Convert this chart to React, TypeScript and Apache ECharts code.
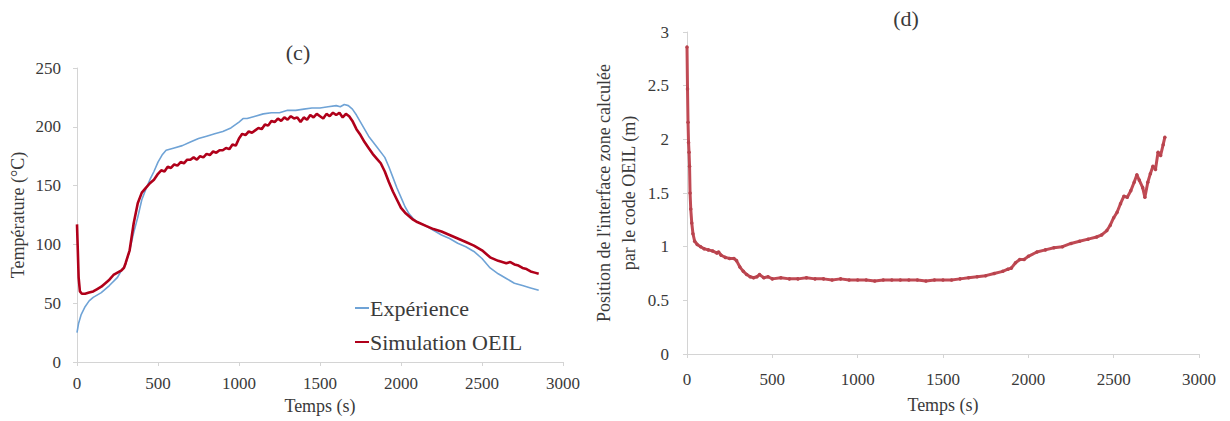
import React, { useEffect, useRef } from "react";
import * as echarts from "echarts";

// ---- Chart (c): temperature ----
const expTimes = [0, 10, 25, 50, 75, 100, 150, 200, 250, 275, 300, 325, 350, 375, 400, 425, 450, 475, 500, 525, 550, 600, 650, 700, 750, 800, 850, 900, 950, 1000, 1025, 1050, 1100, 1150, 1200, 1250, 1300, 1350, 1400, 1450, 1500, 1550, 1600, 1625, 1650, 1675, 1700, 1725, 1750, 1775, 1800, 1850, 1900, 1925, 1950, 1975, 2000, 2025, 2050, 2075, 2100, 2150, 2200, 2250, 2300, 2350, 2400, 2450, 2500, 2550, 2600, 2650, 2700, 2750, 2800, 2850];
const expValues = [25, 33, 40, 47, 52, 55, 59, 65, 72, 78, 83, 95, 110, 123, 138, 147, 155, 162, 170, 176, 180, 182, 184, 187, 190, 192, 194, 196, 199, 204, 207, 207, 209, 211, 212, 212, 214, 214, 215, 216, 216, 217, 218, 217, 219, 218, 215, 210, 204, 198, 192, 183, 174, 166, 157, 148, 140, 132, 126, 122, 119, 116, 112, 108, 105, 101, 98, 94, 88, 80, 75, 71, 67, 65, 63, 61];

const simTimes = [0, 5, 10, 18, 30, 50, 75, 100, 125, 150, 175, 200, 225, 250, 275, 290, 300, 325, 350, 375, 400, 425, 450, 475, 500, 520, 540, 560, 580, 600, 620, 640, 660, 680, 700, 720, 740, 760, 780, 800, 820, 840, 860, 880, 900, 920, 940, 960, 980, 1000, 1020, 1040, 1060, 1080, 1100, 1120, 1140, 1160, 1180, 1200, 1220, 1240, 1260, 1280, 1300, 1320, 1340, 1360, 1380, 1400, 1420, 1440, 1460, 1480, 1500, 1520, 1540, 1560, 1580, 1600, 1620, 1640, 1660, 1680, 1700, 1725, 1750, 1775, 1800, 1825, 1850, 1875, 1900, 1925, 1950, 1975, 2000, 2025, 2050, 2075, 2100, 2150, 2200, 2250, 2300, 2350, 2400, 2450, 2500, 2550, 2600, 2650, 2675, 2700, 2725, 2750, 2775, 2800, 2825, 2850];
const simValues = [117, 95, 72, 60, 58, 58, 59, 60, 62, 64, 67, 70, 74, 76, 78, 80, 84, 95, 118, 135, 144, 148, 152, 155, 160, 163, 162, 166, 165, 168, 167, 170, 169, 172, 172, 174, 172, 175, 174, 177, 176, 179, 178, 180, 180, 182, 181, 185, 184, 190, 194, 193, 196, 195, 197, 199, 198, 202, 201, 205, 204, 207, 205, 208, 206, 209, 207, 208, 204, 208, 206, 210, 208, 211, 209, 207, 211, 209, 212, 210, 212, 208, 211, 209, 205, 198, 193, 187, 182, 177, 173, 169, 162, 153, 145, 138, 131, 127, 124, 121, 119, 116, 113, 111, 108, 105, 102, 99, 95, 89, 86, 84, 85, 83, 82, 80, 79, 77, 76, 75];

// ---- Chart (d): interface position ----
const posTimes = [0, 3, 6, 9, 12, 15, 18, 22, 28, 35, 45, 60, 80, 100, 125, 150, 175, 185, 200, 225, 250, 275, 290, 310, 330, 350, 370, 390, 410, 425, 450, 475, 500, 550, 600, 650, 700, 750, 800, 850, 900, 950, 1000, 1050, 1100, 1150, 1200, 1250, 1300, 1350, 1400, 1450, 1500, 1550, 1600, 1650, 1700, 1750, 1800, 1850, 1880, 1900, 1925, 1950, 1975, 2000, 2050, 2100, 2150, 2200, 2250, 2300, 2350, 2400, 2430, 2460, 2480, 2500, 2520, 2540, 2560, 2580, 2600, 2620, 2636, 2650, 2670, 2683, 2700, 2715, 2730, 2745, 2760, 2775, 2790, 2800];
const posValues = [2.86, 2.47, 2.16, 1.97, 1.88, 1.75, 1.5, 1.35, 1.22, 1.12, 1.05, 1.02, 1.0, 0.98, 0.97, 0.96, 0.94, 0.95, 0.92, 0.9, 0.89, 0.89, 0.87, 0.81, 0.77, 0.74, 0.72, 0.71, 0.72, 0.74, 0.71, 0.72, 0.7, 0.71, 0.7, 0.7, 0.71, 0.7, 0.7, 0.69, 0.7, 0.69, 0.69, 0.69, 0.68, 0.69, 0.69, 0.69, 0.69, 0.69, 0.68, 0.69, 0.69, 0.69, 0.7, 0.71, 0.72, 0.73, 0.75, 0.77, 0.79, 0.8, 0.85, 0.88, 0.88, 0.91, 0.95, 0.97, 0.99, 1.0, 1.03, 1.05, 1.07, 1.09, 1.11, 1.15, 1.2, 1.27, 1.32, 1.4, 1.47, 1.46, 1.52, 1.6, 1.67, 1.62, 1.55, 1.46, 1.6, 1.68, 1.75, 1.72, 1.88, 1.85, 1.95, 2.02];

const xTicks = { min: 0, max: 3000, interval: 500 };
const leftY = { min: 0, max: 250, interval: 50 };
const rightY = { min: 0, max: 3, interval: 0.5 };

const FONT = "Liberation Serif";
const TXT = "#3a3a3a";
const AXIS = "#d4d4d4";

const zip = (a: number[], b: number[]) => a.map((t, i) => [t, b[i]]);

export default function App() {
  const ref = useRef<HTMLDivElement>(null);
  useEffect(() => {
    if (!ref.current) return;
    const chart = echarts.init(ref.current, undefined, { renderer: "svg" });
    const label = (margin: number) => ({
      color: TXT,
      fontFamily: FONT,
      fontSize: 17,
      margin,
      formatter: (v: number) => "{s|" + String(v) + "}",
      rich: { s: { fontFamily: FONT, fontSize: 17, color: TXT } },
    });
    const axisCommon = {
      type: "value" as const,
      axisLine: { show: true, lineStyle: { color: AXIS, width: 1 } },
      axisTick: { show: true, length: 4, lineStyle: { color: AXIS } },
      splitLine: { show: false },
      nameTextStyle: { color: TXT, fontFamily: FONT, fontSize: 18 },
      nameLocation: "middle" as const,
    };
    chart.setOption({
      animation: false,
      backgroundColor: "#ffffff",
      textStyle: { fontFamily: FONT },
      grid: [
        { left: 77, right: 667, top: 68, bottom: 59 },
        { left: 687, right: 31, top: 32, bottom: 67 },
      ],
      xAxis: [
        { ...axisCommon, gridIndex: 0, ...xTicks, name: "Temps (s)", nameGap: 34, axisLabel: label(13) },
        { ...axisCommon, gridIndex: 1, ...xTicks, name: "Temps (s)", nameGap: 42, axisLabel: label(17) },
      ],
      yAxis: [
        { ...axisCommon, gridIndex: 0, ...leftY, name: "Température (°C)", nameGap: 50, axisLabel: label(16) },
        {
          ...axisCommon, gridIndex: 1, ...rightY,
          name: "Position de l'interface zone calculée\npar le code OEIL (m)",
          nameGap: 46,
          nameTextStyle: { ...axisCommon.nameTextStyle, lineHeight: 25, align: "center" },
          axisLabel: label(18),
        },
      ],
      legend: {
        orient: "vertical",
        left: 350,
        top: 292,
        itemWidth: 14,
        itemHeight: 2,
        itemGap: 12,
        icon: "rect",
        textStyle: { color: TXT, fontFamily: FONT, fontSize: 22, padding: [0, 0, 0, -4] },
        data: ["Expérience", "Simulation OEIL"],
      },
      graphic: [
        { type: "text", x: 298, y: 52, style: { text: "(c)", font: `22px "${FONT}"`, fill: TXT, align: "center", verticalAlign: "middle" } },
        { type: "text", x: 906, y: 18, style: { text: "(d)", font: `22px "${FONT}"`, fill: TXT, align: "center", verticalAlign: "middle" } },
      ],
      series: [
        {
          name: "Expérience", type: "line", xAxisIndex: 0, yAxisIndex: 0,
          data: zip(expTimes, expValues), showSymbol: false,
          lineStyle: { color: "#6fa3d6", width: 1.6 }, itemStyle: { color: "#6fa3d6" },
        },
        {
          name: "Simulation OEIL", type: "line", xAxisIndex: 0, yAxisIndex: 0,
          data: zip(simTimes, simValues), showSymbol: false,
          lineStyle: { color: "#b0001a", width: 2.6 }, itemStyle: { color: "#b0001a" },
        },
        {
          name: "Position", type: "line", xAxisIndex: 1, yAxisIndex: 1,
          data: zip(posTimes, posValues), showSymbol: true, symbol: "circle", symbolSize: 3.5,
          lineStyle: { color: "#c04a54", width: 3 }, itemStyle: { color: "#b8434d" },
        },
      ],
    });
    return () => chart.dispose();
  }, []);
  return <div ref={ref} style={{ position: "fixed", left: 0, top: 0, width: 1230, height: 421 }} />;
}
